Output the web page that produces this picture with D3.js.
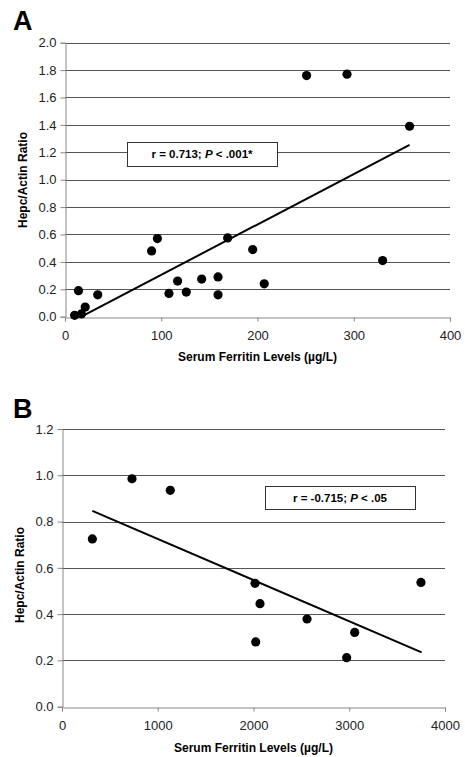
<!DOCTYPE html>
<html>
<head>
<meta charset="utf-8">
<script src="https://cdn.jsdelivr.net/npm/d3@7"></script>
<style>
  body { margin: 0; background: #fff; }
  svg { display: block; font-family: "Liberation Sans", Arial, sans-serif; }
</style>
</head>
<body>
<svg id="chart" width="465" height="757"></svg>
<script>
// Panel A: serum ferritin vs hepcidin/actin ratio
const ferritinA = [10, 14, 17, 21, 34, 90, 96, 108, 117, 126, 142, 159, 159, 169, 195, 207, 330, 251, 293, 358];
const ratioA    = [0.01, 0.19, 0.02, 0.07, 0.16, 0.48, 0.57, 0.17, 0.26, 0.18, 0.275, 0.29, 0.16, 0.575, 0.49, 0.24, 0.41, 1.76, 1.77, 1.39];
const trendA    = [[17, 0.0], [358, 1.255]];
const xTicksA   = [0, 100, 200, 300, 400];
const yTicksA   = [0, 0.2, 0.4, 0.6, 0.8, 1.0, 1.2, 1.4, 1.6, 1.8, 2.0];

// Panel B
const ferritinB = [317, 731, 1131, 2016, 2068, 2023, 2559, 3057, 2973, 3749];
const ratioB    = [0.725, 0.985, 0.935, 0.533, 0.445, 0.28, 0.379, 0.321, 0.212, 0.537];
const trendB    = [[317, 0.846], [3756, 0.235]];
const xTicksB   = [0, 1000, 2000, 3000, 4000];
const yTicksB   = [0, 0.2, 0.4, 0.6, 0.8, 1.0, 1.2];

const svg = d3.select("#chart");

function panel(opts) {
  const x = d3.scaleLinear().domain(opts.xDomain).range([opts.left, opts.right]);
  const y = d3.scaleLinear().domain(opts.yDomain).range([opts.bottom, opts.top]);
  const g = svg.append("g");

  // horizontal gridlines
  g.append("g").selectAll("line")
    .data(opts.yTicks.filter(d => d > 0))
    .enter().append("line")
      .attr("x1", opts.left).attr("x2", opts.right)
      .attr("y1", d => Math.round(y(d)) + 0.5).attr("y2", d => Math.round(y(d)) + 0.5)
      .attr("stroke", "#555").attr("stroke-width", 1);

  // axes
  const yAxis = d3.axisLeft(y).tickValues(opts.yTicks).tickFormat(d3.format(".1f")).tickSizeOuter(0).tickSize(5).tickPadding(4);
  const xAxis = d3.axisBottom(x).tickValues(opts.xTicks).tickFormat(d3.format("d")).tickSizeOuter(0).tickSize(4).tickPadding(9);

  const ya = g.append("g").attr("transform", `translate(${opts.left + 0.5},0)`).call(yAxis);
  const xa = g.append("g").attr("transform", `translate(0,${Math.round(opts.bottom) + 0.5})`).call(xAxis);
  [ya, xa].forEach(a => {
    a.selectAll("path, line").attr("stroke", "#888");
    a.selectAll("text").attr("font-size", 13).attr("fill", "#222")
      .attr("font-family", "Liberation Sans, Arial, sans-serif");
  });

  // regression line
  g.append("path")
    .datum(opts.trend)
    .attr("d", d3.line().x(d => x(d[0])).y(d => y(d[1])))
    .attr("fill", "none").attr("stroke", "#000").attr("stroke-width", 2);

  // points
  g.append("g").selectAll("circle")
    .data(opts.xs.map((v, i) => [v, opts.ys[i]]))
    .enter().append("circle")
      .attr("cx", d => x(d[0])).attr("cy", d => y(d[1]))
      .attr("r", 4.6).attr("fill", "#000");

  // annotation box
  const b = opts.box;
  g.append("rect")
    .attr("x", b.x + 0.5).attr("y", b.y + 0.5).attr("width", b.w).attr("height", b.h)
    .attr("fill", "#fff").attr("stroke", "#333").attr("stroke-width", 1);
  const t = g.append("text")
    .attr("x", b.x + b.w / 2).attr("y", b.y + b.h / 2 + 4)
    .attr("text-anchor", "middle").attr("font-size", 11.5).attr("font-weight", "bold");
  t.append("tspan").text(b.r + "; ");
  t.append("tspan").attr("font-style", "italic").text("P");
  t.append("tspan").text(b.p);

  // labels
  g.append("text")
    .attr("x", opts.letterX).attr("y", opts.letterY)
    .attr("font-size", 27).attr("font-weight", "bold").text(opts.letter);

  g.append("text")
    .attr("transform", `translate(${opts.yLabelX},${opts.yLabelY}) rotate(-90)`)
    .attr("text-anchor", "middle").attr("font-size", 12).attr("font-weight", "bold")
    .text("Hepc/Actin Ratio");

  g.append("text")
    .attr("x", (opts.left + opts.right) / 2).attr("y", opts.xLabelY)
    .attr("text-anchor", "middle").attr("font-size", 12).attr("font-weight", "bold")
    .text("Serum Ferritin Levels (µg/L)");
}

panel({
  xs: ferritinA, ys: ratioA, trend: trendA,
  xDomain: [0, 400], yDomain: [0, 2], xTicks: xTicksA, yTicks: yTicksA,
  left: 65, right: 450, top: 42.7, bottom: 316.7,
  box: {x: 127, y: 142, w: 150, h: 24, r: "r = 0.713", p: " < .001*"},
  letter: "A", letterX: 13, letterY: 30,
  yLabelX: 27, yLabelY: 180, xLabelY: 361
});

panel({
  xs: ferritinB, ys: ratioB, trend: trendB,
  xDomain: [0, 4000], yDomain: [0, 1.2], xTicks: xTicksB, yTicks: yTicksB,
  left: 62, right: 445, top: 429, bottom: 706.7,
  box: {x: 265, y: 486, w: 150, h: 23, r: "r = -0.715", p: " < .05"},
  letter: "B", letterX: 13, letterY: 418,
  yLabelX: 24, yLabelY: 575, xLabelY: 752
});
</script>
</body>
</html>
